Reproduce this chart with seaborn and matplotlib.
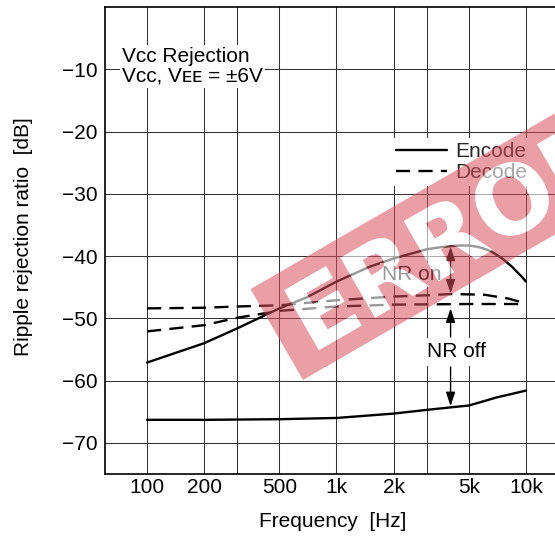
import numpy as np
import pandas as pd
import matplotlib
matplotlib.use("Agg")
import matplotlib.pyplot as plt
import seaborn as sns
from matplotlib.lines import Line2D
from matplotlib.path import Path
from matplotlib.patches import PathPatch
from matplotlib.textpath import TextPath
from matplotlib.font_manager import FontProperties
from matplotlib.transforms import Affine2D, IdentityTransform
from matplotlib.ticker import NullLocator

# ---------------- data ----------------
enc_on_freq = [100, 200, 300, 500, 700, 1000, 1500, 2000, 3000, 3500, 4000, 4500, 5000, 5500,
               6000, 6500, 7000, 7500, 8000, 8500, 9000, 9500, 10000]
enc_on_db = [-57.1, -54.0, -51.6, -48.4, -46.6, -44.1, -41.7, -40.4, -38.9, -38.6, -38.4, -38.3,
             -38.3, -38.5, -38.8, -39.2, -39.8, -40.4, -41.1, -41.8, -42.6, -43.3, -44.1]

enc_off_freq = [100, 200, 500, 1000, 2000, 3000, 4000, 5000, 6000, 7000, 8000, 10000]
enc_off_db = [-66.3, -66.3, -66.2, -66.0, -65.3, -64.7, -64.3, -64.0, -63.3, -62.7, -62.3, -61.6]

dec_on_freq = [100, 200, 300, 500, 1000, 2000, 3000, 4000, 6000, 8000, 10000]
dec_on_db = [-48.4, -48.3, -48.1, -47.9, -47.1, -46.5, -46.3, -46.1, -46.2, -46.8, -47.6]

dec_off_freq = [100, 200, 300, 500, 1000, 2000, 5000, 10000]
dec_off_db = [-52.1, -51.1, -49.9, -48.8, -48.1, -47.8, -47.7, -47.7]

xtick_vals = [100, 200, 300, 500, 1000, 2000, 3000, 5000, 10000, 20000]
xtick_labels = ["100", "200", "", "500", "1k", "2k", "", "5k", "10k", ""]
ytick_vals = [-10, -20, -30, -40, -50, -60, -70]
ytick_labels = ["\u221210", "\u221220", "\u221230", "\u221240", "\u221250", "\u221260", "\u221270"]

legend_labels = ["Encode", "Decode"]

frames = []
for f, d, mode, nr in [(enc_on_freq, enc_on_db, "Encode", "on"),
                       (enc_off_freq, enc_off_db, "Encode", "off"),
                       (dec_on_freq, dec_on_db, "Decode", "on"),
                       (dec_off_freq, dec_off_db, "Decode", "off")]:
    frames.append(pd.DataFrame({"freq": f, "dB": d, "mode": mode, "nr": nr}))
df = pd.concat(frames, ignore_index=True)

# ---------------- style ----------------
sns.set_theme(style="white")
plt.rcParams["font.family"] = ["Liberation Sans", "DejaVu Sans"]
plt.rcParams["axes.unicode_minus"] = True

FS = 15
W, H = 555, 538
fig = plt.figure(figsize=(W / 100, H / 100), dpi=100)
fig.patch.set_facecolor("white")
ax = fig.add_axes([105 / W, 64 / H, 478 / W, 467 / H])

DASH = (6, 3.5)
LW = 1.7
sns.lineplot(data=df, x="freq", y="dB", style="mode", units="nr", estimator=None,
             color="black", dashes={"Encode": "", "Decode": DASH}, linewidth=LW,
             sort=False, legend=False, ax=ax, zorder=3)

ax.set_xscale("log")
ax.set_xlim(60, 20000)
ax.set_ylim(-75, 0)
ax.set_xticks(xtick_vals, xtick_labels)
ax.xaxis.set_minor_locator(NullLocator())
ax.set_yticks(ytick_vals, ytick_labels)
ax.tick_params(axis="both", length=0, labelsize=FS, colors="black")
ax.tick_params(axis="y", pad=5.5)
ax.tick_params(axis="x", pad=3.0)
ax.grid(True, color="#333333", linewidth=0.75)
for s in ax.spines.values():
    s.set_color("black")
    s.set_linewidth(1.2)

ax.set_xlabel("Frequency  [Hz]", fontsize=FS, color="black", va="top")
ax.xaxis.set_label_coords((333 - 105) / 478, (474 - 512) / 467)
ax.set_ylabel("Ripple rejection ratio  [dB]", fontsize=FS, color="black")
ax.yaxis.set_label_coords((33 - 105) / 478, 0.509)

# title box
ax.text(74, -6.5, "V\u1d04\u1d04 Rejection\nV\u1d04\u1d04, V\u1d07\u1d07 = \u00b16V", ha="left", va="top",
        fontsize=FS, color="black", linespacing=1.02, zorder=6,
        bbox=dict(facecolor="white", edgecolor="none", pad=1.5))

# legend
handles = [Line2D([], [], color="black", lw=LW),
           Line2D([], [], color="black", lw=LW, dashes=DASH)]
ax.legend(handles, legend_labels, loc="upper left",
          bbox_to_anchor=((392 - 105) / 478, (474 - 138) / 467),
          frameon=True, framealpha=1, facecolor="white", edgecolor="none", fancybox=False,
          handlelength=2.45, handletextpad=0.4, borderpad=0.2, labelspacing=0.1,
          fontsize=FS, borderaxespad=0)

# annotations
ap = dict(color="black", lw=1.0, shrinkA=0, shrinkB=0, mutation_scale=14)
ax.annotate("", xy=(4000, -38.5), xytext=(4000, -46.0),
            arrowprops=dict(arrowstyle="<|-|>,head_length=0.6,head_width=0.2", **ap), zorder=4)
ax.annotate("", xy=(4000, -48.4), xytext=(4000, -53.0),
            arrowprops=dict(arrowstyle="-|>,head_length=0.6,head_width=0.2", **ap), zorder=4)
ax.annotate("", xy=(4000, -64.1), xytext=(4000, -57.8),
            arrowprops=dict(arrowstyle="-|>,head_length=0.6,head_width=0.2", **ap), zorder=4)
ax.text(2500, -42.9, "NR on", ha="center", va="center", fontsize=FS, color="black", zorder=6,
        bbox=dict(facecolor="white", edgecolor="none", pad=1.5))
ax.text(4270, -55.4, "NR off", ha="center", va="center", fontsize=FS, color="black", zorder=6,
        bbox=dict(facecolor="white", edgecolor="none", pad=3))

# watermark stamp (red band with knocked-out letters)
ang = 30
band_w, band_h = 700, 105
rect = Path([(0, 0), (band_w, 0), (band_w, band_h), (0, band_h), (0, 0)],
            [Path.MOVETO, Path.LINETO, Path.LINETO, Path.LINETO, Path.CLOSEPOLY])
F = 95
tp = TextPath((0, 0), "ERROR", size=F, prop=FontProperties(family="DejaVu Sans", weight="bold"))
tp = tp.transformed(Affine2D().translate(20, (band_h - 0.729 * F) / 2))
place = Affine2D().rotate_deg(ang).translate(303, H - 380)
band = Path.make_compound_path(rect, tp)
fig.add_artist(PathPatch(band.transformed(place), transform=IdentityTransform(),
                         facecolor="#d94f5c", edgecolor="none", alpha=0.55, zorder=10))
fig.add_artist(PathPatch(tp.transformed(place), transform=IdentityTransform(),
                         facecolor="white", edgecolor="none", alpha=0.6, zorder=10))

fig.savefig("out.png", dpi=100)
